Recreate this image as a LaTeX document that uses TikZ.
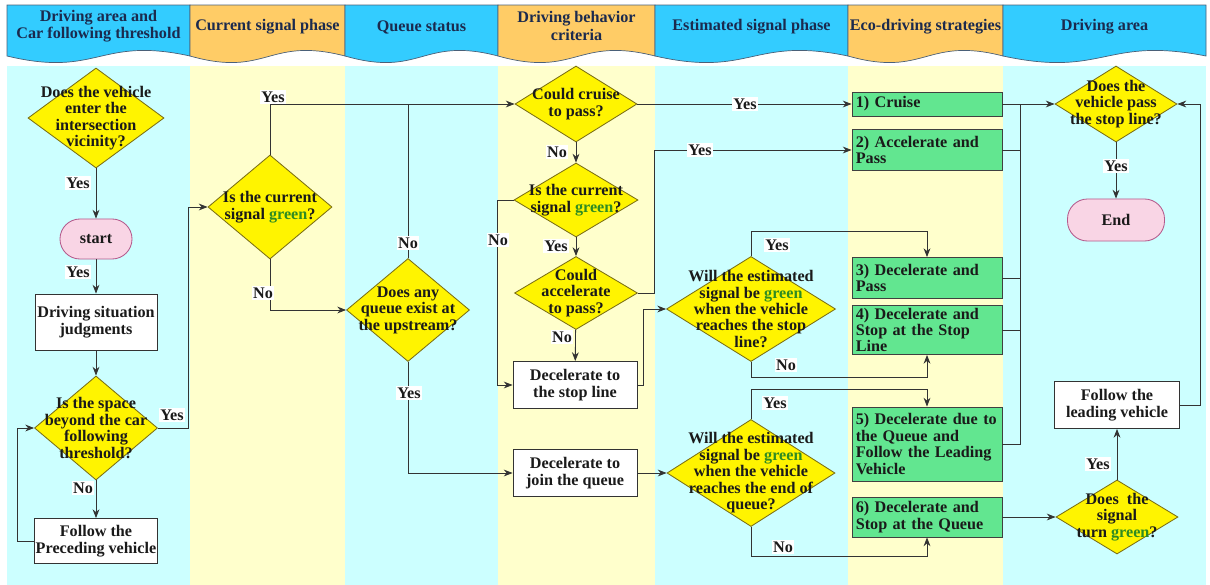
\documentclass[tikz,border=0pt]{standalone}
\usepackage{fontspec}
\setmainfont{Liberation Serif}
\usetikzlibrary{shapes.geometric, arrows.meta}
\definecolor{headblue}{HTML}{33CCFF}
\definecolor{headorange}{HTML}{FFCC66}
\definecolor{lanecyan}{HTML}{CCFFFF}
\definecolor{laneyellow}{HTML}{FFFFCC}
\definecolor{dyellow}{HTML}{FFF400}
\definecolor{dline}{HTML}{7A6E14}
\definecolor{sgreen}{HTML}{62E690}
\definecolor{pinkfill}{HTML}{F9D5E5}
\definecolor{pinkline}{HTML}{B45A8C}
\definecolor{gword}{HTML}{2E8B22}
\definecolor{ink}{HTML}{1A1A1A}
\definecolor{navy}{HTML}{1B2A4E}
\definecolor{aline}{HTML}{333333}
\definecolor{hline}{HTML}{4A6078}

\begin{document}
\begin{tikzpicture}[x=0.025cm, y=-0.025cm,
        txt/.style={font=\fontsize{11.5}{11.7}\selectfont\bfseries, text=ink},
        decision/.style={diamond, draw=dline, fill=dyellow, line width=0.6pt, inner sep=0pt},
        qtext/.style={txt, align=center, inner sep=0pt},
        box/.style={rectangle, draw=aline, fill=white, line width=0.6pt, txt, align=center, inner sep=0pt},
        sbox/.style={rectangle, draw=black!75, fill=sgreen, line width=0.6pt, txt, align=left, text width=3.56cm, minimum width=3.75cm, inner xsep=0.095cm, inner ysep=0pt},
        pill/.style={rectangle, rounded corners=0.5cm, draw=pinkline, fill=pinkfill, line width=0.6pt, txt},
        arrow/.style={-{Stealth[length=2.2mm, width=1.7mm]}, line width=0.6pt, draw=aline},
        line/.style={line width=0.6pt, draw=aline},
        lbl/.style={txt, fill=white, inner sep=1pt},
        head/.style={draw=hline, line width=0.5pt},
        htext/.style={font=\fontsize{11.5}{12.5}\selectfont\bfseries, text=navy, align=center}
    ]
    \useasboundingbox (0,0) rectangle (1210,585);

    \fill[lanecyan] (7,66) rectangle (190,585);
    \fill[laneyellow] (190,66) rectangle (345,585);
    \fill[lanecyan] (345,66) rectangle (498,585);
    \fill[laneyellow] (498,66) rectangle (655,585);
    \fill[lanecyan] (655,66) rectangle (848,585);
    \fill[laneyellow] (848,66) rectangle (1003,585);
    \fill[lanecyan] (1003,66) rectangle (1206,585);

    \draw[head, fill=headblue] (7,5) -- (190,5) -- (190,56) .. controls (98.5,36) and (98.5,78) .. (7,56) -- cycle;
    \draw[head, fill=headorange] (190,5) -- (345,5) -- (345,56) .. controls (267.5,36) and (267.5,78) .. (190,56) -- cycle;
    \draw[head, fill=headblue] (345,5) -- (498,5) -- (498,56) .. controls (421.5,36) and (421.5,78) .. (345,56) -- cycle;
    \draw[head, fill=headorange] (498,5) -- (655,5) -- (655,56) .. controls (576.5,36) and (576.5,78) .. (498,56) -- cycle;
    \draw[head, fill=headblue] (655,5) -- (848,5) -- (848,56) .. controls (751.5,36) and (751.5,78) .. (655,56) -- cycle;
    \draw[head, fill=headorange] (848,5) -- (1003,5) -- (1003,56) .. controls (925.5,36) and (925.5,78) .. (848,56) -- cycle;
    \draw[head, fill=headblue] (1003,5) -- (1206,5) -- (1206,56) .. controls (1104.5,36) and (1104.5,78) .. (1003,56) -- cycle;

    \node[htext] (harea) at (98.5,26) {Driving area and\\Car following threshold};
    \node[htext] (hcurrent) at (267.5,27) {Current signal phase};
    \node[htext] (hqueue) at (421.5,27) {Queue status};
    \node[htext] (hbehavior) at (576.5,26) {Driving behavior\\criteria};
    \node[htext] (hestimated) at (751.5,27) {Estimated signal phase};
    \node[htext] (hstrategies) at (925.5,27) {Eco-driving strategies};
    \node[htext] (hdriving) at (1104.5,27) {Driving area};

    \node[decision, minimum width=3.4cm, minimum height=2.5cm] (qenter) at (96,118) {};
    \node[qtext] (qenter-t) at (qenter) {Does the vehicle\\enter the\\intersection\\vicinity?};
    \node[pill, minimum width=1.8cm, minimum height=1cm] (start) at (96,239) {start};
    \node[box, minimum width=3.05cm, minimum height=1.4cm] (judge) at (96,322) {Driving situation\\judgments};
    \node[decision, minimum width=3.075cm, minimum height=2.6cm] (qspace) at (96,428) {};
    \node[qtext] (qspace-t) at (qspace) {Is the space\\beyond the car\\following\\threshold?};
    \node[box, minimum width=3.075cm, minimum height=1.125cm] (follow) at (96,541) {Follow the\\Preceding vehicle};

    \node[decision, minimum width=3.1cm, minimum height=2.6cm] (qgreen) at (270,207) {};
    \node[qtext] (qgreen-t) at (qgreen) {Is the current\\signal {\color{gword}green}?};

    \node[decision, minimum width=3.075cm, minimum height=2.575cm] (qqueue) at (408,310) {};
    \node[qtext] (qqueue-t) at (qqueue) {Does any\\queue exist at\\the upstream?};

    \node[decision, minimum width=3.05cm, minimum height=1.9cm] (qcruise) at (576,104) {};
    \node[qtext] (qcruise-t) at (qcruise) {Could cruise\\to pass?};
    \node[decision, minimum width=3.1cm, minimum height=1.85cm] (qgreen2) at (576,200) {};
    \node[qtext] (qgreen2-t) at (qgreen2) {Is the current\\signal {\color{gword}green}?};
    \node[decision, minimum width=3.075cm, minimum height=1.825cm] (qacc) at (576,293) {};
    \node[qtext] (qacc-t) at (qacc) {Could\\accelerate\\to pass?};
    \node[box, minimum width=3.1cm, minimum height=1.175cm] (decstop) at (575,385) {Decelerate to\\the stop line};
    \node[box, minimum width=3.1cm, minimum height=1.175cm] (decjoin) at (575,473) {Decelerate to\\join the queue};

    \node[decision, minimum width=4.225cm, minimum height=2.625cm] (qstop) at (751,309) {};
    \node[qtext] (qstop-t) at (qstop) {Will the estimated\\signal be {\color{gword}green}\\when the vehicle\\reaches the stop\\line?};
    \node[decision, minimum width=4.2cm, minimum height=2.675cm] (qend) at (751,473) {};
    \node[qtext] (qend-t) at (qend) {Will the estimated\\signal be {\color{gword}green}\\when the vehicle\\reaches the end of\\queue?};

    \node[sbox, minimum height=0.6cm] (cruise) at (927,104) {1) Cruise};
    \node[sbox, minimum height=1.025cm] (accpass) at (927,150) {2) Accelerate and\\Pass};
    \node[sbox, minimum height=1.025cm] (decpass) at (927,278) {3) Decelerate and\\Pass};
    \node[sbox, minimum height=1.225cm] (decline) at (927,330) {4) Decelerate and\\Stop at the Stop\\Line};
    \node[sbox, minimum height=1.85cm] (decfollow) at (927,444) {\mbox{5) Decelerate due to}\\the Queue and\\Follow the Leading\\Vehicle};
    \node[sbox, minimum height=1cm] (decqueue) at (927,517) {6) Decelerate and\\Stop at the Queue};

    \node[decision, minimum width=3.05cm, minimum height=1.9cm] (qpass) at (1116,104) {};
    \node[qtext] (qpass-t) at (qpass) {Does the\\vehicle pass\\the stop line?};
    \node[pill, minimum width=2.425cm, minimum height=1.05cm] (fin) at (1116,220) {End};
    \node[box, minimum width=3.125cm, minimum height=1.175cm] (lead) at (1117,405) {Follow the\\leading vehicle};
    \node[decision, minimum width=3.05cm, minimum height=1.85cm] (qturn) at (1117,517) {};
    \node[qtext] (qturn-t) at (qturn) {Does~~the\\signal\\turn {\color{gword}green}?};

    \draw[arrow] (qenter) -- (start);
    \draw[arrow] (start) -- (judge);
    \draw[arrow] (judge) -- (qspace);
    \draw[arrow] (qspace) -- (follow);
    \draw[arrow] (follow.west) -- ++(-17,0) |- (qspace.west);
    \draw[arrow] (qspace.east) -- ++(30,0) |- (qgreen.west);

    \draw[arrow] (qgreen.north) |- (qcruise.west);
    \draw[arrow] (qgreen.south) |- (qqueue.west);
    \draw[line] (qqueue.north) -- (qqueue.north |- qcruise.west);
    \draw[arrow] (qqueue.south) |- (decjoin.west);

    \draw[arrow] (qcruise.east) -- (cruise.west);
    \draw[arrow] (qcruise) -- (qgreen2);
    \draw[arrow] (qgreen2.west) -- ++(-16,0) |- (decstop.west);
    \draw[arrow] (qgreen2) -- (qacc);
    \draw[arrow] (qacc.east) -- ++(16,0) |- (accpass.west);
    \draw[arrow] (qacc) -- (decstop);
    \draw[arrow] (decstop.east) -- ++(6,0) |- (qstop.west);
    \draw[arrow] (decjoin.east) -- (qend.west);

    \draw[arrow] (qstop.north) -- ++(0,-25) -| (decpass.north);
    \draw[arrow] (qstop.south) -- ++(0,15) -| (decline.south);
    \draw[arrow] (qend.north) -- ++(0,-30) -| (decfollow.north);
    \draw[arrow] (qend.south) -- ++(0,29) -| (decqueue.south);

    \coordinate (bus) at (1020,104);
    \draw[arrow] (cruise.east) -- (qpass.west);
    \draw[line] (bus) |- (decfollow.east);
    \draw[line] (accpass.east) -- (accpass.east -| bus);
    \draw[line] (decpass.east) -- (decpass.east -| bus);
    \draw[line] (decline.east) -- (decline.east -| bus);

    \draw[arrow] (qpass) -- (fin);
    \draw[arrow] (decqueue.east) -- (qturn.west);
    \draw[arrow] (qturn) -- (lead);
    \draw[arrow] (lead.east) -- ++(20,0) |- (qpass.east);

    \node[lbl] (y1) at (78,183) {Yes};
    \node[lbl] (y2) at (78,272) {Yes};
    \node[lbl] (n1) at (83,488) {No};
    \node[lbl] (y3) at (172,415) {Yes};
    \node[lbl] (y4) at (273,97) {Yes};
    \node[lbl] (n2) at (263,293) {No};
    \node[lbl] (n3) at (408,243) {No};
    \node[lbl] (y5) at (409,393) {Yes};
    \node[lbl] (y6) at (745,104) {Yes};
    \node[lbl] (n4) at (557,152) {No};
    \node[lbl] (n5) at (498,240) {No};
    \node[lbl] (y7) at (556,246) {Yes};
    \node[lbl] (y8) at (700,150) {Yes};
    \node[lbl] (n6) at (562,337) {No};
    \node[lbl] (y9) at (777,245) {Yes};
    \node[lbl] (n7) at (786,365) {No};
    \node[lbl] (y10) at (775,403) {Yes};
    \node[lbl] (n8) at (783,547) {No};
    \node[lbl] (y11) at (1116,166) {Yes};
    \node[lbl] (y12) at (1098,464) {Yes};
\end{tikzpicture}
\end{document}
